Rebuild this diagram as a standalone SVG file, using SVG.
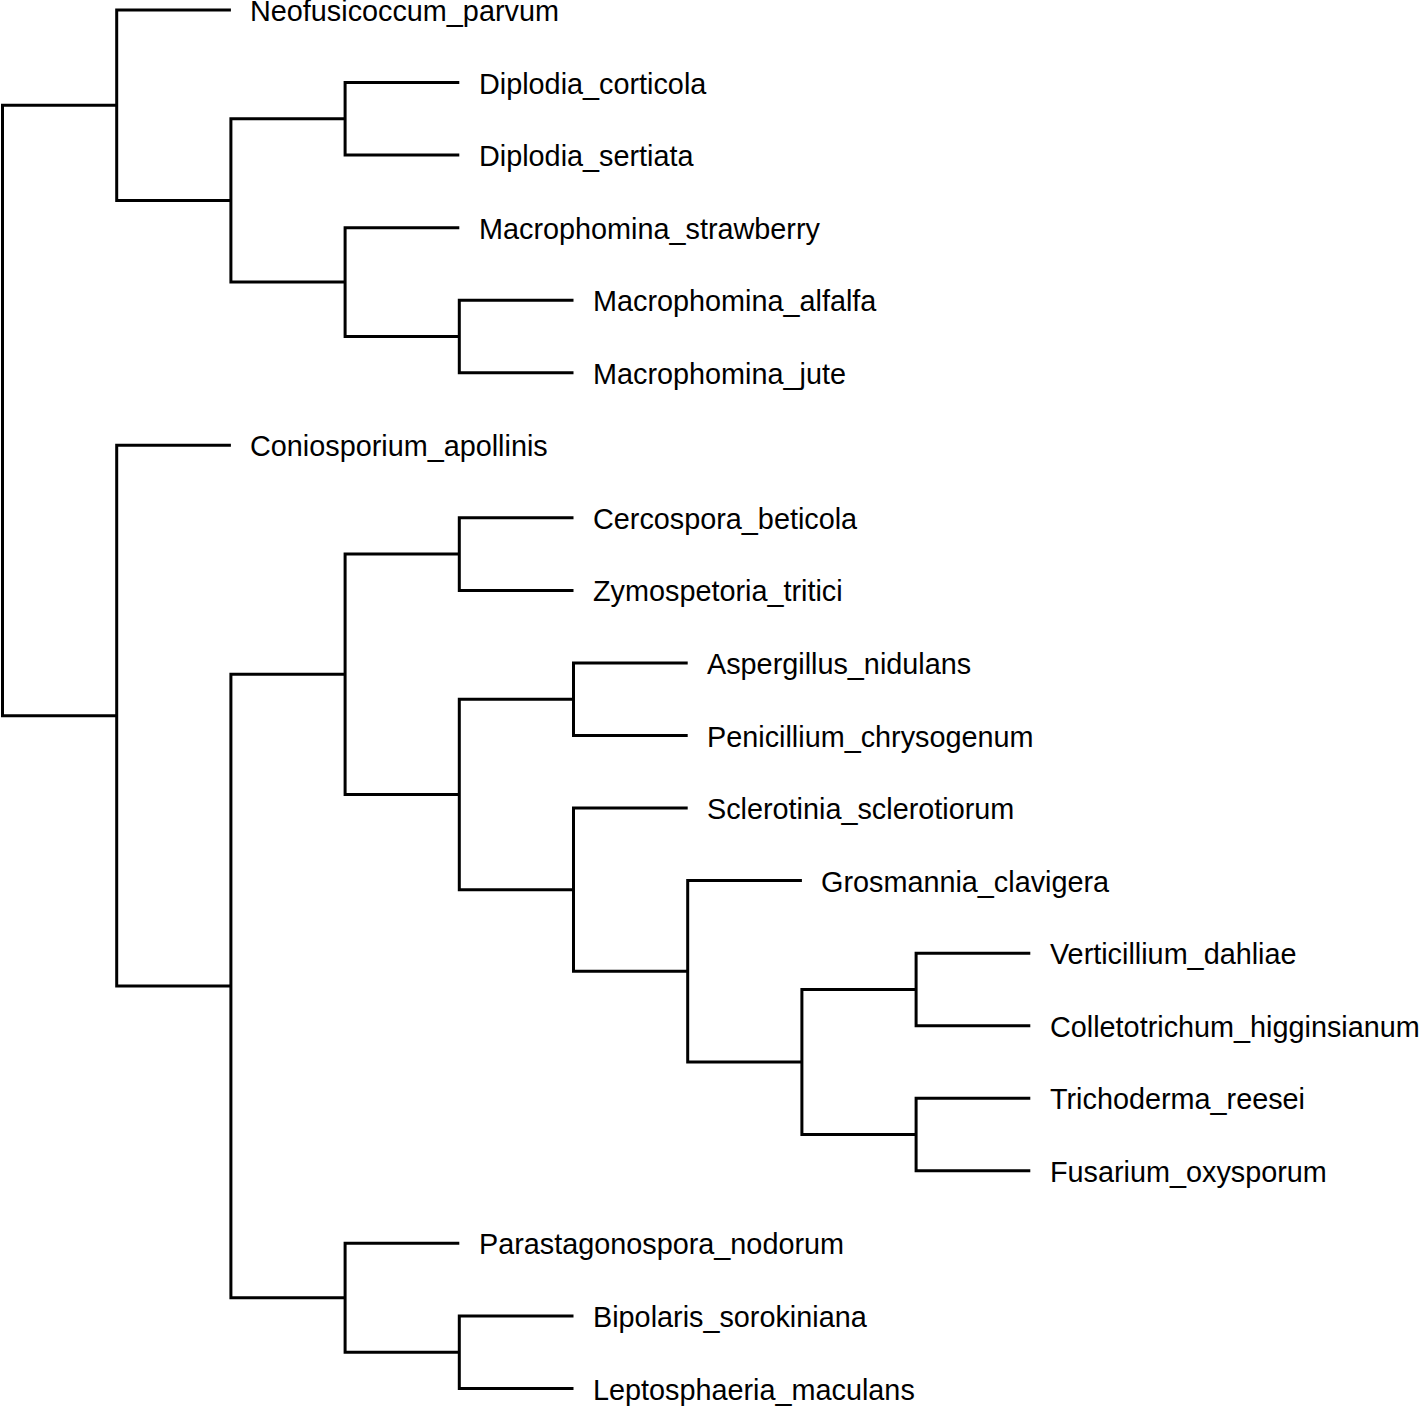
<svg xmlns="http://www.w3.org/2000/svg" width="1419" height="1406" viewBox="0 0 1419 1406">
<style>
.e{fill:none;stroke:#000;stroke-width:3;stroke-linejoin:miter;stroke-linecap:butt}
.t{font-family:"Liberation Sans",Arial,sans-serif;font-size:28.8px;fill:#000}
</style>
<rect width="1419" height="1406" fill="#fff"/>
<g id="connectors">
<path class="e" d="M116.7,105.2 H2.5 V715.7 H116.7"/>
<path class="e" d="M230.9,10 H116.7 V200.4 H230.9"/>
<path class="e" d="M345.1,118.8 H230.9 V282.1 H345.1"/>
<path class="e" d="M459.3,82.55 H345.1 V155.1 H459.3"/>
<path class="e" d="M459.3,227.65 H345.1 V336.5 H459.3"/>
<path class="e" d="M573.5,300.2 H459.3 V372.75 H573.5"/>
<path class="e" d="M230.9,445.3 H116.7 V986 H230.9"/>
<path class="e" d="M345.1,674.3 H230.9 V1297.8 H345.1"/>
<path class="e" d="M459.3,554.1 H345.1 V794.45 H459.3"/>
<path class="e" d="M573.5,517.85 H459.3 V590.4 H573.5"/>
<path class="e" d="M573.5,699.2 H459.3 V889.7 H573.5"/>
<path class="e" d="M687.7,662.95 H573.5 V735.5 H687.7"/>
<path class="e" d="M687.7,808.05 H573.5 V971.3 H687.7"/>
<path class="e" d="M801.9,880.6 H687.7 V1062 H801.9"/>
<path class="e" d="M916.1,989.4 H801.9 V1134.5 H916.1"/>
<path class="e" d="M1030.3,953.15 H916.1 V1025.7 H1030.3"/>
<path class="e" d="M1030.3,1098.25 H916.1 V1170.8 H1030.3"/>
<path class="e" d="M459.3,1243.35 H345.1 V1352.2 H459.3"/>
<path class="e" d="M573.5,1315.9 H459.3 V1388.45 H573.5"/>
</g>
<g id="leaf-neofusicoccum"><text class="t" x="250" y="21">Neofusicoccum_parvum</text></g>
<g id="leaf-diplodia-corticola"><text class="t" x="479" y="93.5">Diplodia_corticola</text></g>
<g id="leaf-diplodia-sertiata"><text class="t" x="479" y="166">Diplodia_sertiata</text></g>
<g id="leaf-macrophomina-strawberry"><text class="t" x="479" y="238.6">Macrophomina_strawberry</text></g>
<g id="leaf-macrophomina-alfalfa"><text class="t" x="593" y="311.2">Macrophomina_alfalfa</text></g>
<g id="leaf-macrophomina-jute"><text class="t" x="593" y="383.7">Macrophomina_jute</text></g>
<g id="leaf-coniosporium"><text class="t" x="250" y="456.3">Coniosporium_apollinis</text></g>
<g id="leaf-cercospora"><text class="t" x="593" y="528.8">Cercospora_beticola</text></g>
<g id="leaf-zymospetoria"><text class="t" x="593" y="601.4">Zymospetoria_tritici</text></g>
<g id="leaf-aspergillus"><text class="t" x="707" y="674">Aspergillus_nidulans</text></g>
<g id="leaf-penicillium"><text class="t" x="707" y="746.5">Penicillium_chrysogenum</text></g>
<g id="leaf-sclerotinia"><text class="t" x="707" y="819">Sclerotinia_sclerotiorum</text></g>
<g id="leaf-grosmannia"><text class="t" x="821" y="891.6">Grosmannia_clavigera</text></g>
<g id="leaf-verticillium"><text class="t" x="1050" y="964.2">Verticillium_dahliae</text></g>
<g id="leaf-colletotrichum"><text class="t" x="1050" y="1036.7">Colletotrichum_higginsianum</text></g>
<g id="leaf-trichoderma"><text class="t" x="1050" y="1109.2">Trichoderma_reesei</text></g>
<g id="leaf-fusarium"><text class="t" x="1050" y="1181.8">Fusarium_oxysporum</text></g>
<g id="leaf-parastagonospora"><text class="t" x="479" y="1254.4">Parastagonospora_nodorum</text></g>
<g id="leaf-bipolaris"><text class="t" x="593" y="1326.9">Bipolaris_sorokiniana</text></g>
<g id="leaf-leptosphaeria"><text class="t" x="593" y="1399.5">Leptosphaeria_maculans</text></g>
</svg>
